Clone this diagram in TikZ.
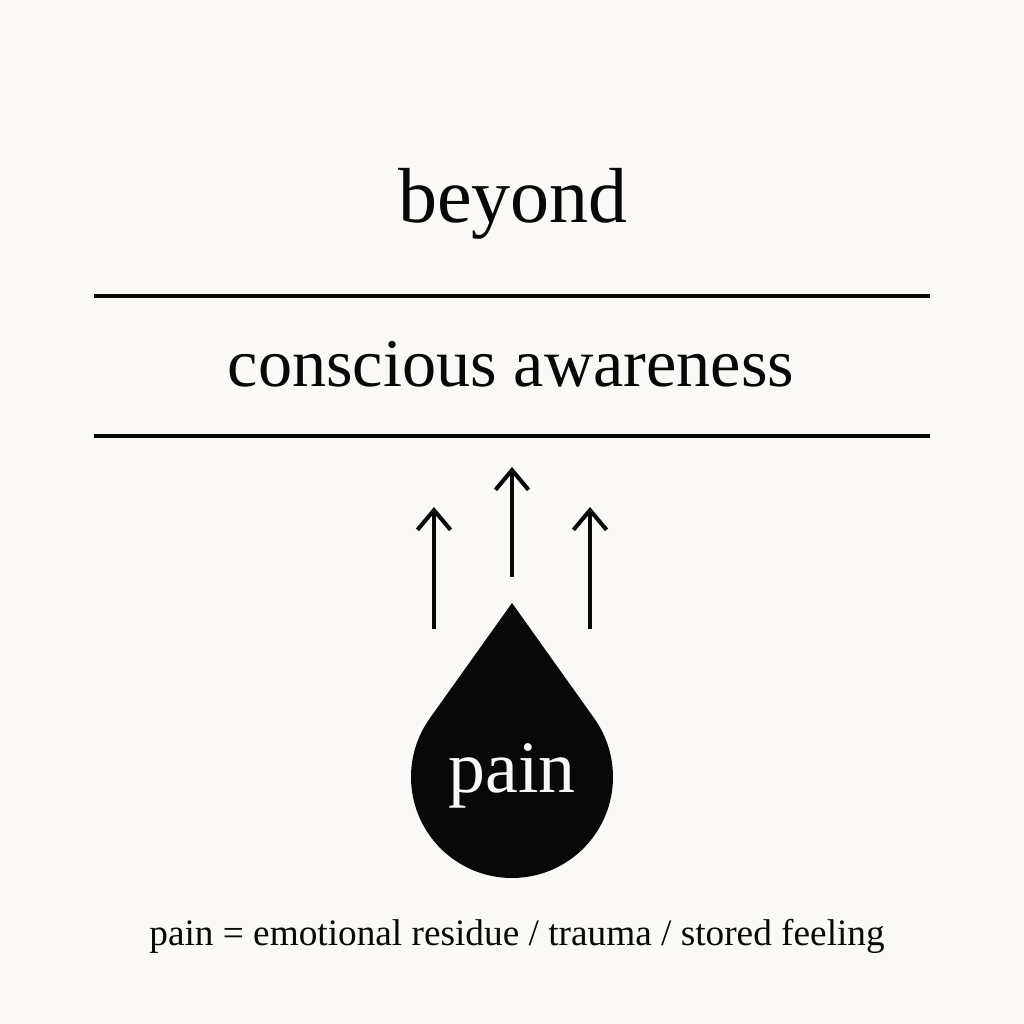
\documentclass[tikz,border=0pt]{standalone}
\usepackage{fontspec}
\setmainfont{Liberation Serif}
\usepackage{xcolor}
\usepackage{tikz}
\usetikzlibrary{arrows.meta, positioning, calc}
\definecolor{paper}{RGB}{250, 249, 245}
\definecolor{ink}{RGB}{8, 8, 8}

\begin{document}
\begin{tikzpicture}[
    x=0.01cm, y=0.01cm,
    title/.style={anchor=base, inner sep=0pt, text=ink, font=\fontsize{22.2}{26}\selectfont},
    layer/.style={anchor=base, inner sep=0pt, text=ink, font=\fontsize{19.4}{23}\selectfont},
    droplabel/.style={anchor=base, inner sep=0pt, text=paper, font=\fontsize{21}{25}\selectfont},
    caption/.style={anchor=base, inner sep=0pt, text=ink, font=\fontsize{10.6}{13}\selectfont},
    rule/.style={draw=ink, line width=1.15pt},
    uparrow/.style={-{Straight Barb[length=5.6pt, width=9.4pt]}, draw=ink, line width=1.15pt}
]
    \fill[paper] (0,0) rectangle (1024,1024);

    \node[title] (beyond) at (513,801) {beyond};
    \coordinate (topL) at (94,728);
    \coordinate (topR) at (930,728);
    \node[layer] (aware) at (511,637) {conscious awareness};
    \coordinate (botL) at (94,588);
    \coordinate (botR) at (930,588);
    \draw[rule] (topL) -- (topR);
    \draw[rule] (botL) -- (botR);

    % drop
    \coordinate (tip) at (512,421);
    \coordinate (c) at (512,247);
    \fill[ink] (tip) -- ($(c)+(144.5:101)$) arc[start angle=144.5, end angle=395.5, radius=101] -- cycle;
    \node[droplabel] (pain) at (512,231) {pain};

    \coordinate (a1s) at (434,395);
    \coordinate (a1e) at (434,517);
    \coordinate (a2s) at (512,447);
    \coordinate (a2e) at (512,557);
    \coordinate (a3s) at (590,395);
    \coordinate (a3e) at (590,517);
    \draw[uparrow] (a1s) -- (a1e);
    \draw[uparrow] (a2s) -- (a2e);
    \draw[uparrow] (a3s) -- (a3e);

    \node[caption] (note) at (517,78) {pain = emotional residue / trauma / stored feeling};
\end{tikzpicture}
\end{document}
